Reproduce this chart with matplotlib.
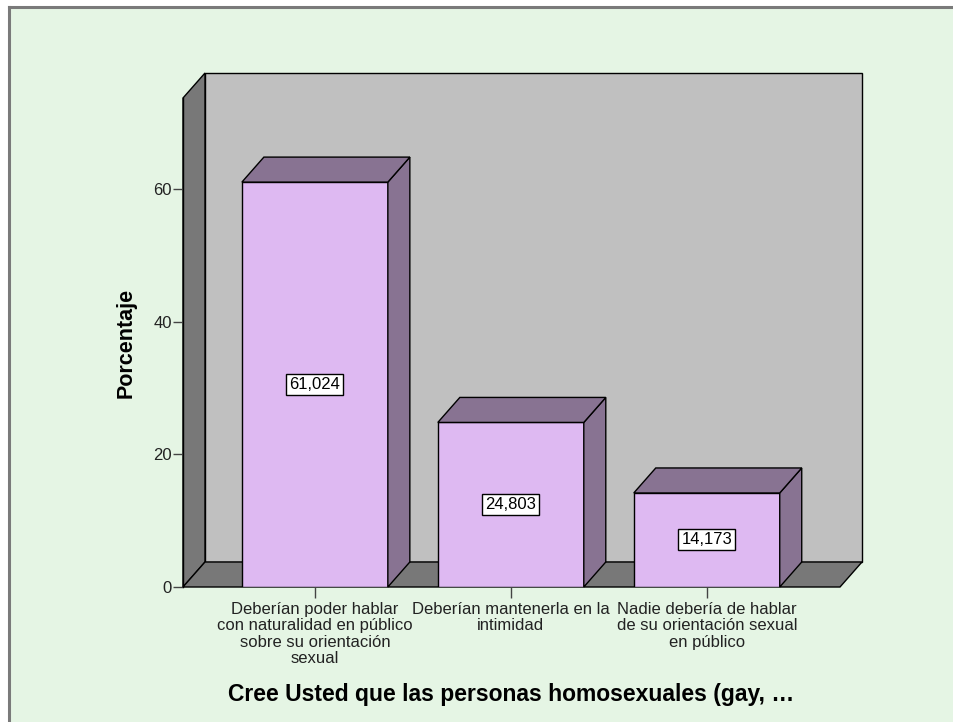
import matplotlib
matplotlib.use("Agg")
import matplotlib.pyplot as plt
from matplotlib.patches import Polygon, Rectangle
from matplotlib.lines import Line2D

plt.rcParams['font.family'] = ['Liberation Sans', 'DejaVu Sans']

categories = ["Deberían poder hablar\ncon naturalidad en público\nsobre su orientación\nsexual",
              "Deberían mantenerla en la\nintimidad",
              "Nadie debería de hablar\nde su orientación sexual\nen público"]
values = [61.024, 24.803, 14.173]
value_labels = ["61,024", "24,803", "14,173"]
yticks = [0, 20, 40, 60]
ylabel = "Porcentaje"
xlabel = "Cree Usted que las personas homosexuales (gay, \u2026"

BG = "#E5F5E4"
WALL = "#C0C0C0"
DARK = "#787878"
FRONT = "#DEB9F2"
SIDE = "#887392"

W, H = 954, 722
fig = plt.figure(figsize=(W / 100, H / 100), dpi=100)
fig.patch.set_facecolor("white")

# green panel with grey border
fig.patches.append(Rectangle((9 / W, 0), 1, (H - 7) / H, transform=fig.transFigure,
                             facecolor=BG, edgecolor="none", zorder=-10))
fig.lines.append(Line2D([9 / W, 1], [(H - 7) / H] * 2, transform=fig.transFigure,
                        color="#7A7A7A", lw=2.2, zorder=-9))
fig.lines.append(Line2D([9 / W] * 2, [0, (H - 7) / H], transform=fig.transFigure,
                        color="#7A7A7A", lw=2.2, zorder=-9))

x0, x1 = 183, 840
yb, yt = 587, 98
ax = fig.add_axes([x0 / W, (H - yb) / H, (x1 - x0) / W, (yb - yt) / H])
ax.set_facecolor("none")
xmin, xmax = -0.673, 2.68
ymax = 73.7
ax.set_xlim(xmin, xmax)
ax.set_ylim(0, ymax)

# depth offset in data units (22 px right, 25 px up)
dx = 22 / 196
dy = 25 * ymax / (yb - yt)

ec = "black"
lw = 1.0
# back wall
ax.add_patch(Polygon([(xmin + dx, dy), (xmax + dx, dy), (xmax + dx, ymax + dy), (xmin + dx, ymax + dy)],
                     closed=True, facecolor=WALL, edgecolor=ec, lw=lw, clip_on=False, zorder=1))
# left side wall
ax.add_patch(Polygon([(xmin, 0), (xmin + dx, dy), (xmin + dx, ymax + dy), (xmin, ymax)],
                     closed=True, facecolor=DARK, edgecolor=ec, lw=lw, clip_on=False, zorder=1))
# floor
ax.add_patch(Polygon([(xmin, 0), (xmax, 0), (xmax + dx, dy), (xmin + dx, dy)],
                     closed=True, facecolor=DARK, edgecolor=ec, lw=lw, clip_on=False, zorder=1))

xs = list(range(len(categories)))
bw = 146 / 196
ax.bar(xs, values, width=bw, color=FRONT, edgecolor=ec, lw=lw, zorder=3)
for x, v, lab in zip(xs, values, value_labels):
    r = x + bw / 2
    l = x - bw / 2
    ax.add_patch(Polygon([(r, 0), (r + dx, dy), (r + dx, v + dy), (r, v)], closed=True,
                         facecolor=SIDE, edgecolor=ec, lw=lw, clip_on=False, zorder=3))
    ax.add_patch(Polygon([(l, v), (r, v), (r + dx, v + dy), (l + dx, v + dy)], closed=True,
                         facecolor=SIDE, edgecolor=ec, lw=lw, clip_on=False, zorder=3))
    ax.text(x, v / 2, lab, ha="center", va="center", fontsize=12, zorder=5,
            bbox=dict(boxstyle="square,pad=0.18", facecolor="white", edgecolor="black", lw=1.0))

for s in ["top", "right", "bottom"]:
    ax.spines[s].set_visible(False)
ax.spines["left"].set_color("black")
ax.spines["left"].set_linewidth(lw)
ax.spines["left"].set_zorder(4)

ax.set_yticks(yticks)
ax.set_yticklabels([str(t) for t in yticks], fontsize=12, color="#222222")
ax.tick_params(axis="y", length=7.5, width=1.0, color="#444444", pad=0.5)
ax.set_xticks(xs)
ax.set_xticklabels(categories, fontsize=12, color="#222222", linespacing=1.1)
ax.tick_params(axis="x", length=8, width=1.0, color="#444444", pad=3)

ax.set_ylabel(ylabel, fontsize=15.5, fontweight="bold")
ax.yaxis.set_label_coords((126 - x0) / (x1 - x0), 0.5)
ax.yaxis.label.set_va("center")
ax.set_xlabel(xlabel, fontsize=16.5, fontweight="bold")
ax.xaxis.set_label_coords(0.5, (yb - 695) / (yb - yt))
ax.xaxis.label.set_va("center")

fig.savefig("out.png", dpi=100, facecolor=fig.get_facecolor())
